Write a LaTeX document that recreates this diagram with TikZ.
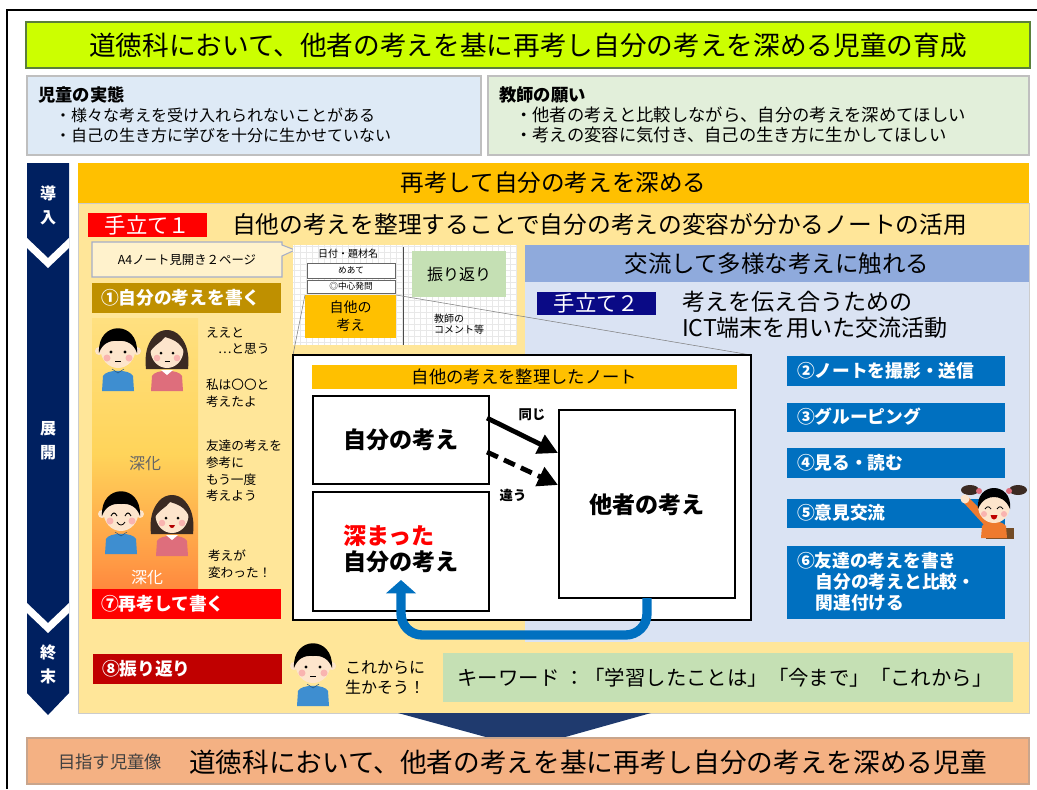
\documentclass[tikz,border=0pt]{standalone}
\usepackage{fontspec}
\setmainfont{Noto Sans CJK JP}
\usetikzlibrary{fit,arrows.meta,calc}

\definecolor{titlegreen}{HTML}{CCFF00}
\definecolor{titleborder}{HTML}{5B7F3A}
\definecolor{jitaiblue}{HTML}{DEEAF6}
\definecolor{negaigreen}{HTML}{E2EFDA}
\definecolor{boxgray}{HTML}{BFBFBF}
\definecolor{stagenavy}{HTML}{002060}
\definecolor{headorange}{HTML}{FFC000}
\definecolor{paleyellow}{HTML}{FFE699}
\definecolor{paleblue}{HTML}{DAE3F3}
\definecolor{bluehead}{HTML}{8FAADC}
\definecolor{tenavy}{HTML}{0A0A86}
\definecolor{stepgold}{HTML}{BF9000}
\definecolor{stepred}{HTML}{FF0000}
\definecolor{stepdark}{HTML}{C00000}
\definecolor{stepblue}{HTML}{0070C0}
\definecolor{notegreen}{HTML}{C5E0B4}
\definecolor{cream}{HTML}{FFF2CC}
\definecolor{calloutline}{HTML}{A5AEC8}
\definecolor{wedgenavy}{HTML}{1F3A6E}
\definecolor{salmon}{HTML}{F4B183}
\definecolor{salmonline}{HTML}{C9A58C}
\definecolor{skin}{HTML}{FDE5CC}
\definecolor{cheek}{HTML}{F9B4B0}
\definecolor{shirtblue}{HTML}{3E8ED0}
\definecolor{sweater}{HTML}{DE6E7C}
\definecolor{hairbrown}{HTML}{3B2A22}
\definecolor{orangeshirt}{HTML}{EE7A2E}
\definecolor{deepred}{HTML}{FF2A1A}
\definecolor{deepscarlet}{HTML}{FF5A2A}
\definecolor{deeporange}{HTML}{FF9A45}
\definecolor{deepyellow}{HTML}{FFD45A}
\definecolor{lightyellow}{HTML}{FFE080}

\pgfdeclareverticalshading{deepen}{100bp}{color(0bp)=(deepred); color(12bp)=(deepscarlet); color(30bp)=(deeporange); color(50bp)=(deepyellow); color(75bp)=(lightyellow); color(100bp)=(paleyellow)}

\newcommand{\fsz}[2]{\fontsize{#1}{#2}\selectfont}

% simple child figures
\newcommand{\boyBase}{%
  \fill[shirtblue] (-16,42) -- (-15,27) .. controls (-12,20) and (12,20) .. (15,27) -- (16,42) -- cycle;
  \draw[shirtblue!60!black, line width=0.4pt] (-6,20) -- (0,24) -- (6,20);
  \fill[skin] (-19,2) circle (4) (19,2) circle (4);
  \fill[skin] (0,0) ellipse (17.5 and 19);
  \fill[black] (-19,4) .. controls (-21,-29) and (21,-29) .. (19,4) .. controls (16,-5) and (9,-9) .. (0,-8) .. controls (-9,-9) and (-16,-5) .. cycle;
  \fill[cheek] (-11,9) circle (3.5) (11,9) circle (3.5);
}
\newcommand{\girlBase}{%
  \fill[hairbrown] (-21,20) .. controls (-27,-31) and (27,-31) .. (21,20) -- cycle;
  \fill[sweater] (-16,42) -- (-15,27) .. controls (-12,20) and (12,20) .. (15,27) -- (16,42) -- cycle;
  \fill[white] (-6,21) -- (0,26) -- (6,21) -- cycle;
  \fill[skin] (0,1) ellipse (16.5 and 18);
  \fill[hairbrown] (-18,5) .. controls (-20,-27) and (20,-27) .. (18,5) .. controls (14,-8) and (4,-10) .. (-2,-12) .. controls (-6,-6) and (-14,-4) .. cycle;
  \fill[cheek] (-10,9) circle (3.3) (10,9) circle (3.3);
}
\tikzset{
  boy/.pic={\boyBase
    \fill[black] (-7,3) circle (1.6) (7,3) circle (1.6);
    \draw[line width=0.5pt] (-3,12) -- (3,12);},
  boyjoy/.pic={\boyBase
    \draw[line width=0.7pt] (-10,4) .. controls (-8,0) and (-6,0) .. (-4,4);
    \draw[line width=0.7pt] (4,4) .. controls (6,0) and (8,0) .. (10,4);
    \draw[line width=0.6pt] (-4,10) .. controls (-2,14) and (2,14) .. (4,10);},
  girl/.pic={\girlBase
    \fill[black] (-6,4) circle (1.5) (6,4) circle (1.5);
    \draw[line width=0.5pt] (-2.5,12) -- (2.5,12);},
  girljoy/.pic={\girlBase
    \fill[black] (-6,4) circle (1.5) (6,4) circle (1.5);
    \fill[red!70!black] (-3,11) -- (3,11) .. controls (2,15) and (-2,15) .. (-3,11) -- cycle;},
  hander/.pic={
    \fill[brown!60!black] (-8,22) rectangle (20,33);
    \fill[hairbrown] (-24,-16) ellipse (9 and 5) (24,-16) ellipse (9 and 5);
    \fill[sweater] (-15,-15) circle (3) (15,-15) circle (3);
    \fill[orangeshirt] (-9,20) -- (-30,-3) -- (-25,-8) -- (-3,14) -- cycle;
    \fill[skin] (-29,-7) circle (4.5);
    \fill[orangeshirt] (-13,32) -- (-12,20) .. controls (-8,14) and (8,14) .. (12,20) -- (13,32) -- cycle;
    \fill[skin] (0,0) ellipse (16 and 17);
    \fill[black] (-16,3) .. controls (-19,-25) and (19,-25) .. (16,3) .. controls (12,-7) and (5,-9) .. (0,-9) .. controls (-5,-9) and (-12,-7) .. cycle;
    \fill[cheek] (-10,8) circle (3) (10,8) circle (3);
    \draw[line width=0.6pt] (-9,3) .. controls (-7,0) and (-5,0) .. (-3,3);
    \draw[line width=0.6pt] (3,3) .. controls (5,0) and (7,0) .. (9,3);
    \fill[red!75!black] (-3.5,9) -- (3.5,9) .. controls (3,15) and (-3,15) .. (-3.5,9) -- cycle;}
}

\begin{document}
\begin{tikzpicture}[x=0.75pt,y=-0.75pt,
  every node/.style={inner sep=0pt, outer sep=0pt},
  bartext/.style={anchor=west, text=white, font=\fsz{13.3}{16}\bfseries},
  talk/.style={anchor=west, align=left, font=\fsz{9.5}{12.5}},
  stagelabel/.style={align=center, text=white, font=\fsz{12}{18}\bfseries},
  notebox/.style={draw=black, line width=1.6pt, fill=white, inner sep=0pt},
  minibox/.style={draw=black!60, line width=0.6pt, fill=white, inner sep=0pt},
  boxtext/.style={font=\fsz{17.3}{20}\bfseries},
  ]
\useasboundingbox (0,0) rectangle (1037,789);

% outer frame
\draw[line width=2pt] (7,789) -- (7,10) -- (1037,10);

% title
\node[fit={(26,22) (1030,68)}, fill=titlegreen, draw=titleborder, line width=1.6pt] (title) {};
\node[font=\fsz{20}{24}] (titlet) at (title.center) {道徳科において、他者の考えを基に再考し自分の考えを深める児童の育成};

% present state and wishes
\node[fit={(27,76) (481,155)}, fill=jitaiblue, draw=boxgray, line width=0.8pt] (jitai) {};
\node[anchor=west, font=\fsz{13}{15}\bfseries] (jitaiH) at (38,95) {児童の実態};
\node[anchor=west, font=\fsz{12}{14}] (jitai1) at (55,115) {・様々な考えを受け入れられないことがある};
\node[anchor=west, font=\fsz{12}{14}] (jitai2) at (55,135) {・自己の生き方に学びを十分に生かせていない};

\node[fit={(488,76) (1029,155)}, fill=negaigreen, draw=boxgray, line width=0.8pt] (negai) {};
\node[anchor=west, font=\fsz{13}{15}\bfseries] (negaiH) at (499,95) {教師の願い};
\node[anchor=west, font=\fsz{13}{15}] (negai1) at (515,115) {・他者の考えと比較しながら、自分の考えを深めてほしい};
\node[anchor=west, font=\fsz{13}{15}] (negai2) at (515,135) {・考えの変容に気付き、自己の生き方に生かしてほしい};

% lesson stages
\fill[stagenavy] (27,163) -- (69,163) -- (69,693) -- (48,715) -- (27,693) -- cycle;
\fill[white] (27,238) -- (48,258) -- (69,238) -- (69,248) -- (48,268) -- (27,248) -- cycle;
\fill[white] (27,603) -- (48,623) -- (69,603) -- (69,613) -- (48,633) -- (27,613) -- cycle;
\node[stagelabel] (stage1) at (48,205) {導\\入};
\node[stagelabel] (stage2) at (48,441) {展\\開};
\node[stagelabel] (stage3) at (48,664) {終\\末};

% main panel
\node[fit={(78,203) (1029,713)}, fill=paleyellow, draw=gray!40, line width=0.6pt] (panel) {};
\node[fit={(78,163) (1029,203)}, fill=headorange] (panelhead) {};
\node[font=\fsz{17.7}{20}] (panelheadt) at (panelhead.center) {再考して自分の考えを深める};
\fill[paleblue] (525,282) rectangle (1029,642);
\node[fit={(525,245) (1029,282)}, fill=bluehead] (bluehead) {};
\node[font=\fsz{17.6}{20}] (blueheadt) at (bluehead.center) {交流して多様な考えに触れる};

% support 1
\node[fit={(88,213) (207,237)}, fill=stepred] (te1) {};
\node[text=white, font=\fsz{16}{18}] (te1t) at (te1.center) {手立て１};
\node[anchor=west, font=\fsz{17.8}{20}] (te1text) at (232,224) {自他の考えを整理することで自分の考えの変容が分かるノートの活用};

\draw[calloutline, fill=cream, line width=0.8pt] (92,242) -- (282,242) -- (282,245) -- (295,250) -- (282,256) -- (282,277) -- (92,277) -- cycle;
\node[font=\fsz{9.3}{11}] (callout) at (187,260) {A4ノート見開き２ページ};

% notebook spread
\node[fit={(293,245) (517,345)}, fill=white] (notebook) {};
\draw[gray!18, line width=0.25pt, step=4.5pt] (293,345) grid (517,245);
\draw[black!70, line width=0.7pt] (403,247) -- (403,345);
\node[font=\fsz{7.5}{9}] (datelbl) at (348,254) {日付・題材名};
\node[minibox, fit={(307,263) (395,278)}] (meate) {};
\node[font=\fsz{6.5}{8}] (meatet) at (meate.center) {めあて};
\node[minibox, fit={(307,280) (395,293)}] (hatsumon) {};
\node[font=\fsz{6.5}{8}] (hatsumont) at (hatsumon.center) {◎中心発問};
\node[fit={(305,295) (396,338)}, fill=headorange] (jita) {};
\node[align=center, font=\fsz{10.5}{13.5}] (jitat) at (jita.center) {自他の\\考え};
\node[fit={(412,251) (506,297)}, fill=notegreen] (furi) {};
\node[font=\fsz{12}{14}] (furit) at (furi.center) {振り返り};
\node[anchor=west, align=left, font=\fsz{7.5}{8.5}] (comment) at (434,324) {教師の\\コメント等};

% step 1, deepening column, step 7
\node[fit={(92,283) (281,313)}, fill=stepgold] (step1) {};
\node[bartext] (step1t) at (101,298) {①自分の考えを書く};
\shade[shading=deepen] (92,318) rectangle (198,589);
\node[fit={(92,589) (281,619)}, fill=stepred] (step7) {};
\node[bartext] (step7t) at (101,604) {⑦再考して書く};

\pic at (118,349) {boy};
\pic at (167,349) {girl};
\pic at (121,512) {boyjoy};
\pic at (172,514) {girljoy};

\node[font=\fsz{12}{14}, text=gray!80!black] (deep1) at (145,463) {深化};
\node[font=\fsz{12}{14}, text=white] (deep2) at (147,577) {深化};

\node[talk] (talk1) at (206,341) {ええと\\\hspace*{9pt}…と思う};
\node[talk] (talk2) at (206,393) {私は〇〇と\\考えたよ};
\node[talk] (talk3) at (206,471) {友達の考えを\\参考に\\もう一度\\考えよう};
\node[talk] (talk4) at (208,564) {考えが\\変わった！};

% organised note
\draw[gray, line width=0.4pt] (jita.north west) -- (293,355);
\draw[gray, line width=0.4pt] (jita.north east) -- (751,355);
\node[fit={(293,355) (751,620)}, draw=black, line width=2.2pt, fill=white] (note) {};
\node[fit={(312,365) (737,389)}, fill=headorange] (notehead) {};
\node[font=\fsz{13}{15}] (noteheadt) at (notehead.center) {自他の考えを整理したノート};
\node[notebox, fit={(313,396) (489,484)}] (self) {};
\node[boxtext] (selft) at (self.center) {自分の考え};
\node[notebox, fit={(313,492) (489,611)}] (deep) {};
\node[boxtext, align=left] (deept) at (401,549) {\textcolor{red}{深まった}\\自分の考え};
\node[notebox, fit={(559,410) (735,598)}] (other) {};
\node[boxtext] (othert) at (647,505) {他者の考え};

\draw[line width=3.6pt, -{Triangle[length=15pt,width=15pt]}] ($(self.north east)+(-2,22)$) -- ($(other.north west)+(-1,43)$);
\draw[line width=3.6pt, dash pattern=on 9pt off 5pt, -{Triangle[length=15pt,width=15pt]}] ($(self.north east)+(-2,56)$) -- ($(other.north west)+(-1,75)$);
\node[font=\fsz{10}{12}\bfseries] (same) at (532,415) {同じ};
\node[font=\fsz{10}{12}\bfseries] (diff) at (513,495) {違う};

\draw[stepblue, line width=7pt, rounded corners=16pt, -{Triangle[length=10pt,width=22pt]}] (other.south) -- (647,635) -- (401,635) -- (401,580);

% support 2
\node[fit={(537,292) (656,315)}, fill=tenavy] (te2) {};
\node[text=white, font=\fsz{16}{18}] (te2t) at (te2.center) {手立て２};
\node[anchor=west, align=left, font=\fsz{17.3}{19.5}] (te2text) at (682,315) {考えを伝え合うための\\ICT端末を用いた交流活動};

\node[fit={(787,356) (1005,386)}, fill=stepblue] (step2) {};
\node[bartext] (step2t) at (797,371) {②ノートを撮影・送信};
\node[fit={(787,403) (1005,432)}, fill=stepblue] (step3) {};
\node[bartext] (step3t) at (797,417) {③グルーピング};
\node[fit={(787,448) (1005,478)}, fill=stepblue] (step4) {};
\node[bartext] (step4t) at (797,463) {④見る・読む};
\node[fit={(787,499) (1005,528)}, fill=stepblue] (step5) {};
\node[bartext] (step5t) at (797,513) {⑤意見交流};
\node[fit={(787,546) (1005,619)}, fill=stepblue] (step6) {};
\node[bartext, align=left, font=\fsz{13.3}{15.8}\bfseries] (step6t) at (797,582) {⑥友達の考えを書き\\\hspace*{14pt}自分の考えと比較・\\\hspace*{14pt}関連付ける};
\pic at (994,506) {hander};

% closing
\node[fit={(93,654) (282,684)}, fill=stepdark] (step8) {};
\node[bartext] (step8t) at (102,669) {⑧振り返り};
\pic at (313,664) {boy};
\node[anchor=west, align=left, font=\fsz{12}{15}] (future) at (345,678) {これからに\\生かそう！};
\node[fit={(443,653) (1013,702)}, fill=notegreen] (keyword) {};
\node[font=\fsz{15.3}{18}] (keywordt) at (725,678) {キーワード ：「学習したことは」「今まで」「これから」};

% goal
\fill[wedgenavy] (398,713) -- (651,713) -- (526,748) -- cycle;
\node[fit={(27,738) (1029,784)}, fill=salmon, draw=salmonline, line width=0.8pt] (goal) {};
\node[font=\fsz{13}{15}, text=black!75] (goallbl) at (110,762) {目指す児童像};
\node[anchor=west, font=\fsz{20}{24}] (goaltext) at (189,762) {道徳科において、他者の考えを基に再考し自分の考えを深める児童};
\end{tikzpicture}
\end{document}
